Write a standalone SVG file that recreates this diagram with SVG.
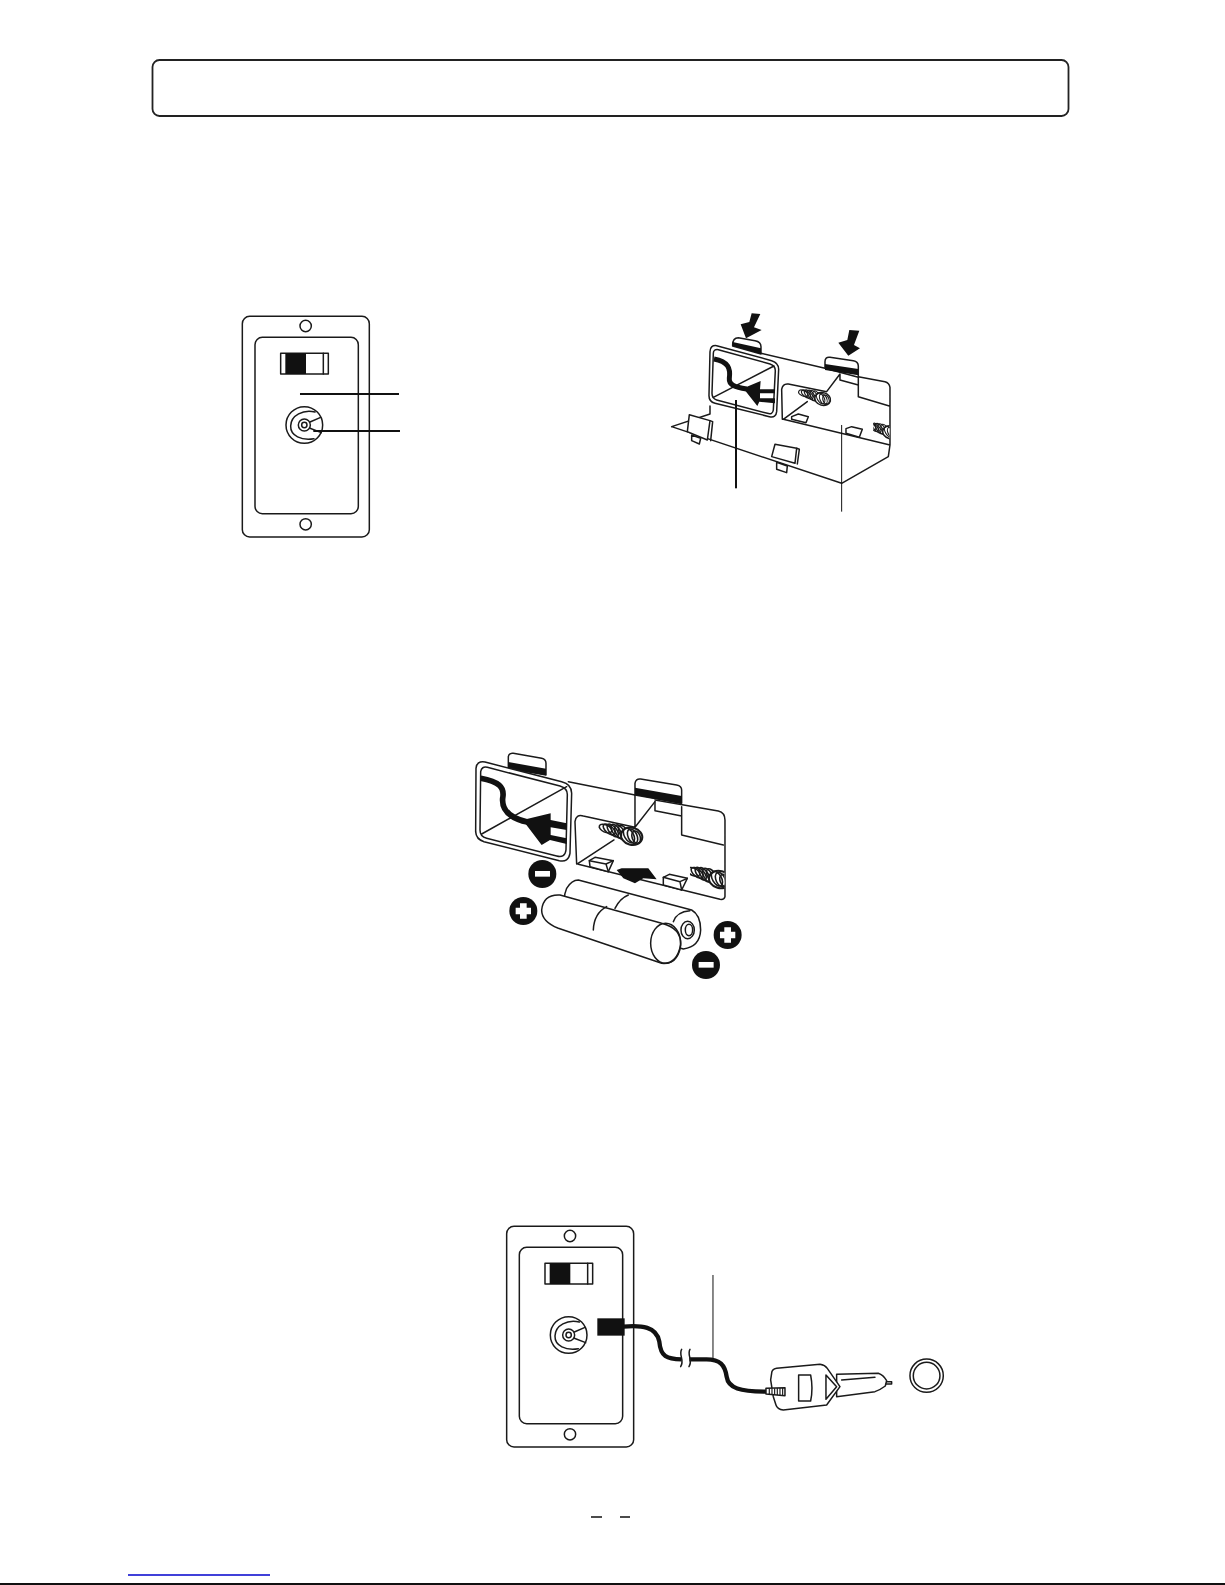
<svg xmlns="http://www.w3.org/2000/svg" width="1225" height="1585" viewBox="0 0 1225 1585">
<defs>
<style>
.l{fill:none;stroke:#1a1a1a;stroke-width:4.500;stroke-linejoin:round;stroke-linecap:round}
.w{fill:#fff;stroke:#1a1a1a;stroke-width:4.500;stroke-linejoin:round}
.t{fill:none;stroke:#1a1a1a;stroke-width:3.500}
.k{fill:#111;stroke:none}
.c{fill:none;stroke:#111;stroke-linecap:butt}
</style>
<g id="plate">
<rect class="w" x="67" y="49" width="381" height="662" rx="22"/>
<rect class="w" x="105" y="112" width="310" height="529" rx="22"/>
<circle class="w" cx="257" cy="78" r="17"/>
<circle class="w" cx="257" cy="673" r="17"/>
<rect class="w" x="182" y="160" width="143" height="62"/>
<rect class="k" x="196" y="160" width="62" height="62"/>
<line class="l" x1="310" y1="160" x2="310" y2="222"/>
<circle class="w" cx="253" cy="375" r="55"/>
<path class="l" d="M285 336C250 328 213 345 212 378C211 408 245 422 282 416"/>
<circle class="w" cx="253" cy="375" r="18"/>
<circle class="l" cx="253" cy="375" r="8"/>
<path class="l" d="M270 366L302 352M270 385L304 398"/>
</g>
<g id="coil">
<ellipse class="t" cx="-38" cy="-12" rx="8" ry="15" transform="rotate(-65 -38 -12)"/>
<ellipse class="t" cx="-30" cy="-10" rx="8" ry="16" transform="rotate(-50 -30 -10)"/>
<ellipse class="t" cx="-22" cy="-8" rx="8" ry="17" transform="rotate(-40 -22 -8)"/>
<ellipse class="t" cx="-14" cy="-6" rx="8" ry="18" transform="rotate(-35 -14 -6)"/>
<ellipse class="t" cx="-6" cy="-4" rx="9" ry="18" transform="rotate(-30 -6 -4)"/>
<ellipse class="t" cx="3" cy="-2" rx="9" ry="19" transform="rotate(-30 3 -2)"/>
<ellipse class="w" cx="20" cy="5" rx="24" ry="19" transform="rotate(15 20 5)"/>
<ellipse class="t" cx="14" cy="3" rx="10" ry="18" transform="rotate(-30 14 3)"/>
<ellipse class="t" cx="22" cy="5" rx="10" ry="17" transform="rotate(-25 22 5)"/>
<ellipse class="t" cx="30" cy="7" rx="9" ry="14" transform="rotate(-20 30 7)"/>
</g>
<clipPath id="r1"><rect x="640" y="350" width="49" height="80"/></clipPath>
<clipPath id="r2"><rect x="690" y="360" width="104" height="100"/></clipPath>
</defs>
<rect width="1225" height="1585" fill="#fff"/>

<g id="header-box">
<rect x="152.500" y="60" width="916" height="56" rx="7" fill="#fff" stroke="#222" stroke-width="1.800"/>
</g>

<g id="switch-panel" transform="translate(220 300) scale(.3333)">
<use href="#plate"/>
<path d="M240 282H537M280 393H540" fill="none" stroke="#111" stroke-width="6"/>
</g>

<g id="battery-holder" transform="translate(660 300) scale(.3333)">
<path class="l" d="M35 380L150 342L150 318M35 380L545 550L685 470L690 435L690 262Q688 248 675 245L595 230M303 160L495 205M595 290L688 318M595 232V290M370 358L690 435"/>
<path class="w" d="M218 135Q218 113 235 113L285 122Q303 125 303 140V162L218 138Z"/>
<path class="k" d="M218 126L303 145V162L218 138Z"/>
<path class="w" d="M495 205V185Q495 170 510 172L580 182Q595 185 595 198V232L495 205Z"/>
<path class="k" d="M495 192L595 207V226L495 210Z"/>
<path class="l" d="M367 358L365 268Q368 250 385 252L500 275L540 222V240L595 255M370 358L442 305"/>
<path class="w" d="M150 155Q150 135 170 137L335 182Q356 188 356 208L350 335Q348 355 328 350L165 310Q146 305 147 285Z"/>
<path class="l" d="M160 160Q160 147 175 149L330 192Q346 197 346 212L340 330Q338 345 322 340L170 300Q156 296 156 280Z"/>
<path class="l" d="M160 292L342 198"/>
<path class="c" stroke-width="15" d="M162 177C205 185 212 205 208 235C206 255 225 262 260 267"/>
<path class="k" d="M250 265L302 243L300 268L345 268V280L300 280V295L345 295V310L298 305L292 318Z"/>
<path class="k" d="M242 73L258 115L305 90L282 82L301 42L275 40L268 66Z"/>
<path class="k" d="M535 128L565 167L600 145L582 135L598 92L568 90L562 120Z"/>
<use href="#coil" transform="translate(468 292)"/>
<g clip-path="url(#r1)"><use href="#coil" transform="translate(672 392)"/></g>
<path class="w" d="M88 344L150 362L142 420L82 395Z"/>
<path class="l" d="M150 362L158 365L152 422"/>
<path class="w" d="M95 405L122 415L118 432L95 422Z"/>
<path class="w" d="M345 433L410 445L405 490L335 470Z"/>
<path class="l" d="M410 445L418 448L412 492"/>
<path class="w" d="M350 487L382 498L380 518L350 508Z"/>
<path class="w" d="M395 350L415 342L445 350L438 368L395 358Z"/>
<path class="w" d="M558 386L575 380L607 388L598 412L558 400Z"/>
<path d="M228 300V565" fill="none" stroke="#111" stroke-width="6"/>
<path d="M545 375V635" fill="none" stroke="#111" stroke-width="3"/>
</g>

<g id="batteries" transform="translate(460 740) scale(.3333)">
<path class="l" d="M325 125L525 165M585 180L775 213Q795 218 795 240V470Q793 480 780 478L355 373M665 285L790 315M665 200V285M585 185V212L665 228"/>
<path class="w" d="M145 85V50Q147 38 160 40L245 55Q258 58 258 70V105L145 85Z"/>
<path class="k" d="M145 66L258 86V106L145 86Z"/>
<path class="w" d="M525 165V130Q527 115 542 117L650 135Q665 138 665 150V190L525 165Z"/>
<path class="k" d="M525 143L665 168V192L525 165Z"/>
<path class="l" d="M350 372L345 245Q348 222 370 228L525 262L585 185M352 372L462 300M525 165V262"/>
<path class="w" d="M48 85Q50 62 75 66L305 125Q335 132 335 160L330 340Q325 368 298 362L72 305Q48 298 47 275Z"/>
<path class="l" d="M62 95Q65 78 82 82L300 138Q323 145 322 165L318 330Q315 355 290 348L80 295Q60 290 60 270Z"/>
<path class="l" d="M65 282L320 140"/>
<path class="c" stroke-width="17" d="M62 115C115 125 135 140 128 175C125 210 150 235 205 247"/>
<path class="k" d="M188 240L272 220V240L320 250V270L272 262V285L320 295V312L270 300L245 315Z"/>
<use href="#coil" transform="translate(488 282) scale(1.350)"/>
<g clip-path="url(#r2)"><use href="#coil" transform="translate(752 412) scale(1.350)"/></g>
<path class="w" d="M388 362L405 352L460 362L445 395L390 380Z"/>
<path class="l" d="M388 362L438 372L445 395M438 372L460 362"/>
<path class="w" d="M610 412L628 403L682 415L665 450L610 435Z"/>
<path class="l" d="M610 412L660 425L665 450M660 425L682 415"/>
<path class="k" d="M470 390L485 385L565 385L590 418L550 415L525 430L490 415Z"/>
<g>
<path class="w" d="M355 420L695 510Q722 525 722 570Q720 620 670 627L320 520Q305 480 320 445Q335 420 355 420Z"/>
<ellipse class="l" cx="683" cy="570" rx="20" ry="26"/>
<ellipse class="l" cx="687" cy="570" rx="11" ry="17"/>
<path class="l" d="M640 545Q650 515 690 512M465 505Q480 475 505 465"/>
<path class="w" d="M300 465L605 550Q665 565 662 615Q650 675 605 670L295 565Q245 545 245 510Q250 462 300 465Z"/>
<ellipse class="l" cx="617" cy="610" rx="45" ry="60"/>
<path class="l" d="M400 570Q402 520 440 500"/>
</g>
<circle class="k" cx="247" cy="402" r="42"/><rect x="225" y="393" width="45" height="17" fill="#fff"/>
<circle class="k" cx="190" cy="513" r="42"/><path fill="#fff" d="M180 490H200V503H213V523H200V536H180V523H167V503H180Z"/>
<circle class="k" cx="803" cy="585" r="42"/><path fill="#fff" d="M793 562H813V575H826V595H813V608H793V595H780V575H793Z"/>
<circle class="k" cx="738" cy="675" r="42"/><rect x="716" y="666" width="45" height="17" fill="#fff"/>
</g>

<g id="car-adapter" transform="translate(490 1210) scale(.3333)">
<g transform="translate(-17 0)"><use href="#plate"/></g>
<rect class="k" x="322" y="325" width="82" height="52"/>
<path class="c" stroke-width="13" d="M400 350C455 345 500 350 508 395C512 440 530 448 575 448"/>
<path class="c" stroke-width="13" d="M598 448H650C690 448 705 465 710 500C715 535 750 545 830 545"/>
<path class="l" d="M575 418C565 435 585 450 572 470M600 418C590 435 610 450 597 470"/>
<line stroke="#111" stroke-width="3" x1="669" y1="195" x2="669" y2="445"/>
<path class="w" d="M1040 493L1165 490Q1180 495 1190 512L1186 528Q1170 540 1155 545L1040 560Z"/>
<path class="l" d="M1055 510L1155 502M1190 515H1205V522H1188"/>
<path class="w" d="M845 490Q845 478 860 475L990 463Q1005 465 1012 475L1050 530L1010 585L880 600Q862 598 858 585L850 560L842 510Z"/>
<path class="w" d="M926 495H962Q970 535 962 573H926Z"/>
<path class="l" d="M1008 495L1040 530L1008 568Z"/>
<path class="w" d="M828 535L885 533V557L828 552Z"/>
<path class="t" d="M838 535V553M846 535V554M854 535V555M862 534V555M870 534V556M878 534V556"/>
<circle class="w" cx="1310" cy="497" r="50"/>
<circle class="l" cx="1310" cy="497" r="40"/>
</g>

<g id="footer">
<path d="M591 1517H602M620 1517H630" stroke="#111" stroke-width="1.500" fill="none"/>
<path d="M128 1575H270" stroke="#0000cc" stroke-width="1.500" fill="none"/>
<path d="M0 1584H1225" stroke="#111" stroke-width="2" fill="none"/>
</g>
</svg>
